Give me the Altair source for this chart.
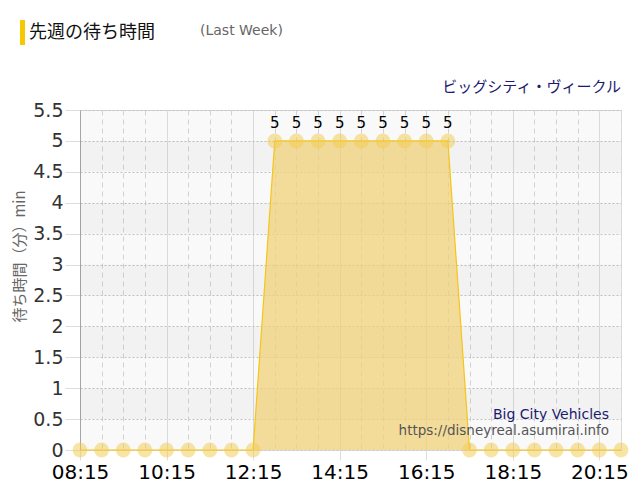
import altair as alt
import pandas as pd

times = ["08:15","08:45","09:15","09:45","10:15","10:45","11:15","11:45","12:15",
         "12:45","13:15","13:45","14:15","14:45","15:15","15:45","16:15","16:45",
         "17:15","17:45","18:15","18:45","19:15","19:45","20:15","20:45"]
waits = [0,0,0,0,0,0,0,0,0,
         5,5,5,5,5,5,5,5,5,
         0,0,0,0,0,0,0,0]
x_ticks = ["08:15","10:15","12:15","14:15","16:15","18:15","20:15"]
y_ticks = [0,0.5,1,1.5,2,2.5,3,3.5,4,4.5,5,5.5]

def to_min(s):
    h, m = s.split(":")
    return int(h) * 60 + int(m)

df = pd.DataFrame({"t": [to_min(s) for s in times], "wait": waits})
df["label"] = [str(v) if v > 0 else "" for v in waits]
bands = pd.DataFrame({"y0": y_ticks[:-1], "y1": y_ticks[1:]})
bands["shade"] = [i % 2 for i in range(len(bands))]

xmin, xmax = to_min(times[0]), to_min(times[-1])
all_ticks = [to_min(s) for s in times]
xs = alt.Scale(domain=[xmin, xmax], nice=False, zero=False)
ys = alt.Scale(domain=[0, 5.5], nice=False)
major = "(datum.value - 15) % 120 == 0"

x_axis = alt.Axis(values=all_ticks, zindex=0,
                  labelExpr="(datum.value - 15) % 120 == 0 ? (floor(datum.value/60) < 10 ? '0' : '') + floor(datum.value/60) + ':' + (datum.value % 60 < 10 ? '0' : '') + (datum.value % 60) : ''",
                  labelFont="DejaVu Sans", labelFontSize=20, labelColor="#000",
                  labelPadding=2, tickSize=10, labelFlush=False,
                  tickColor={"condition": {"test": major, "value": "#dddddd"}, "value": "transparent"},
                  domain=False, grid=True,
                  gridColor={"condition": {"test": major, "value": "#e0e0e0"}, "value": "#d8d8d8"},
                  gridDash={"condition": {"test": major, "value": []}, "value": [5, 4]},
                  labelOverlap=False, title=None)
y_axis = alt.Axis(values=y_ticks, zindex=0, format="~g", labelOverlap=False, labelFlush=False,
                  labelFont="DejaVu Sans", labelFontSize=19,
                  labelColor="#333", tickSize=15, tickColor="#dddddd",
                  labelPadding=2, grid=True,
                  gridColor="#c8c8c8", gridDash=[2, 2],
                  domainColor="#aaaaaa",
                  title="待ち時間（分）min",
                  titleFont="Noto Sans CJK JP", titleFontSize=15, titleFontWeight="normal",
                  titleColor="#666", titleX=-61, titleY=146, titleAlign="center",
                  titleBaseline="middle", titleAngle=270)

X = alt.X("t:Q", scale=xs, axis=x_axis)
Y = alt.Y("wait:Q", scale=ys, axis=y_axis)

band_layer = alt.Chart(bands).mark_rect(color="#000").encode(
    x=alt.value(0), x2=alt.value(541),
    y=alt.Y("y0:Q", scale=ys, axis=y_axis), y2="y1:Q",
    opacity=alt.Opacity("shade:N", scale=alt.Scale(domain=[0, 1], range=[0.025, 0.05]), legend=None),
)

area = alt.Chart(df).mark_area(color="#f0d27a", opacity=0.75, line={"color": "#f5c518", "strokeWidth": 1.2}).encode(
    x=X, y=Y)

pts = alt.Chart(df).mark_circle(size=220, color="#f2cc4d", opacity=0.5).encode(x=X, y=Y)

txt = alt.Chart(df).mark_text(dy=-18, fontSize=15, font="DejaVu Sans", color="#000").encode(
    x=X, y=Y, text="label:N")

notes = pd.DataFrame({"k": [0]})
bar = alt.Chart(notes).mark_rect(color="#f5c800").encode(
    x=alt.value(-60), x2=alt.value(-55), y=alt.value(-90), y2=alt.value(-65))
t1 = alt.Chart(notes).mark_text(text="先週の待ち時間", align="left", baseline="middle",
                                font="Noto Sans CJK JP", fontSize=18, color="#111").encode(
    x=alt.value(-51), y=alt.value(-77))
t2 = alt.Chart(notes).mark_text(text="(Last Week)", align="left", baseline="middle",
                                font="DejaVu Sans", fontSize=14, color="#666").encode(
    x=alt.value(120), y=alt.value(-79))
t3 = alt.Chart(notes).mark_text(text="ビッグシティ・ヴィークル", align="right", baseline="middle",
                                font="Noto Sans CJK JP", fontSize=15, color="#1a1a6e").encode(
    x=alt.value(541), y=alt.value(-23))
t4 = alt.Chart(notes).mark_text(text="Big City Vehicles", align="right", baseline="middle",
                                font="DejaVu Sans", fontSize=14, color="#1a1a6e").encode(
    x=alt.value(529), y=alt.value(305))
t5 = alt.Chart(notes).mark_text(text="https://disneyreal.asumirai.info", align="right", baseline="middle",
                                font="DejaVu Sans", fontSize=13.5, color="#555").encode(
    x=alt.value(529), y=alt.value(321))

chart = alt.layer(band_layer, area, pts, txt, bar, t1, t2, t3, t4, t5).properties(
    width=541, height=340,
    autosize=alt.AutoSizeParams(type="none"),
    padding={"left": 72, "top": 102, "right": 11, "bottom": 42},
).configure_view(stroke=None).configure(background="white")

chart.save("out.html", embed_options={"renderer": "svg", "actions": False})
